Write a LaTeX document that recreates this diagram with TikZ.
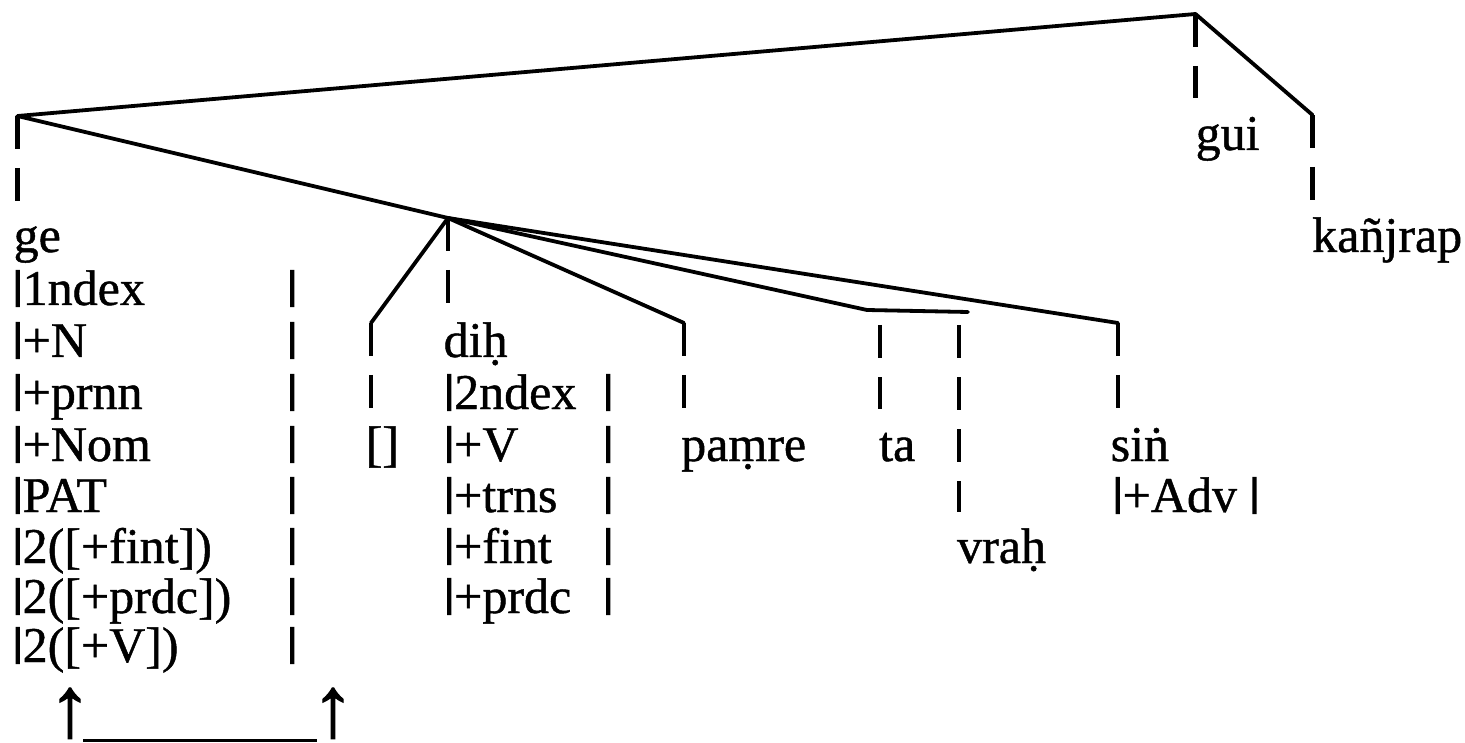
\documentclass[tikz,border=0pt]{standalone}
\usepackage{fontspec}
\usepackage{graphicx}
\setmainfont{Liberation Serif}[FakeBold=0.9]
\newfontfamily\barfont{Liberation Serif}[FakeBold=3.5]
\newfontfamily\arrowfont{Liberation Serif}[FakeBold=1.3]
\newcommand{\vb}{\raisebox{-0.03em}{\resizebox*{\width}{0.72em}{\raisebox{\depth}{\barfont|}}}}
\begin{document}
\begin{tikzpicture}[x=1pt,y=-1pt,
  tree/.style={line width=3.8pt,line cap=round,line join=round},
  vdash/.style={line width=4.2pt,dash pattern=on 33pt off 19pt},
  lbl/.style={anchor=base west,inner sep=0pt,font=\fontsize{50}{52}\selectfont},
  arr/.style={anchor=south,inner sep=0pt,font=\arrowfont\fontsize{86}{88}\selectfont},
  uline/.style={line width=3pt}]
\useasboundingbox (0,0) rectangle (1465,743);
% tree points
\coordinate (root) at (1195.5,14);
\coordinate (L) at (17.5,116);
\coordinate (K) at (1312.5,115);
\coordinate (A) at (448,218);
\coordinate (B) at (371,323);
\coordinate (P) at (684,323);
\coordinate (T1) at (867,310);
\coordinate (T2) at (968,312);
\coordinate (S) at (1118,323);
% dash ends
\coordinate (rootE) at (1195.5,98);
\coordinate (LE) at (17.5,202);
\coordinate (KE) at (1312.5,200);
\coordinate (AE) at (448,305);
\coordinate (BE) at (371,409);
\coordinate (PE) at (684,409);
\coordinate (TaT) at (880,325);
\coordinate (TaE) at (880,409);
\coordinate (VrT) at (959,325);
\coordinate (VrE) at (959,512);
\coordinate (SE) at (1118,409);
% solid branches
\draw[tree] (L) -- (root) -- (K);
\draw[tree] (L) -- (A);
\draw[tree] (A) -- (B);
\draw[tree] (A) -- (P);
\draw[tree] (A) -- (T1) -- (T2);
\draw[tree] (A) -- (S);
% dashed heads
\draw[vdash] (root) -- (rootE);
\draw[vdash] (L) -- (LE);
\draw[vdash] (K) -- (KE);
\draw[vdash] (A) -- (AE);
\draw[vdash] (B) -- (BE);
\draw[vdash] (P) -- (PE);
\draw[vdash] (TaT) -- (TaE);
\draw[vdash] (VrT) -- (VrE);
\draw[vdash] (S) -- (SE);
% labels
\node[lbl] (gui) at (1195.5,150) {gui};
\node[lbl] (kanj) at (1312,252) {kañjrap};
\node[lbl] (ge) at (13.5,252) {ge};
\node[lbl] (g1) at (12.5,305) {\vb1ndex};
\node[lbl] (g2) at (12.5,357) {\vb+N};
\node[lbl] (g3) at (12.5,409) {\vb+prnn};
\node[lbl] (g4) at (12.5,461) {\vb+Nom};
\node[lbl] (g5) at (12.5,512) {\vb PAT};
\node[lbl] (g6) at (12.5,563) {\vb2([+fint])};
\node[lbl] (g7) at (12.5,613) {\vb2([+prdc])};
\node[lbl] (g8) at (12.5,662) {\vb2([+V])};
\foreach \y [count=\i] in {305,357,409,461,512,563,613,662}
  \node[lbl] (gb\i) at (287,\y) {\vb};
\node[lbl] (empty) at (365.5,461) {[]};
\node[lbl] (dih) at (443.5,357) {diḥ};
\node[lbl] (d1) at (444,409) {\vb2ndex};
\node[lbl] (d2) at (444,461) {\vb+V};
\node[lbl] (d3) at (444,512) {\vb+trns};
\node[lbl] (d4) at (444,563) {\vb+fint};
\node[lbl] (d5) at (444,613) {\vb+prdc};
\foreach \y [count=\i] in {409,461,512,563,613}
  \node[lbl] (db\i) at (603,\y) {\vb};
\node[lbl] (pamre) at (681,461) {paṃre};
\node[lbl] (ta) at (879,461) {ta};
\node[lbl] (vrah) at (957,563) {vraḥ};
\node[lbl] (sin) at (1110.5,461) {siṅ};
\node[lbl] (adv) at (1112.5,512) {\vb+Adv \vb};
% arrows and underline
\node[arr] (up1) at (70,739) {↑};
\node[arr] (up2) at (333,739) {↑};
\coordinate (u1) at (83,740);
\coordinate (u2) at (317,740);
\draw[uline] (u1) -- (u2);
\end{tikzpicture}
\end{document}
